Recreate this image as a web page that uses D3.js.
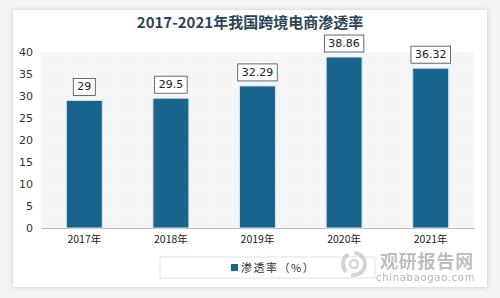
<!DOCTYPE html>
<html><head><meta charset="utf-8">
<script src="https://cdn.jsdelivr.net/npm/d3@7"></script>
<style>body{margin:0;background:#f3f3f3;}svg{display:block;}</style>
</head><body>
<svg id="c" width="500" height="298"></svg>
<script>
const categories = ["2017年","2018年","2019年","2020年","2021年"];
const values = [29, 29.5, 32.29, 38.86, 36.32];
const valueLabels = ["29","29.5","32.29","38.86","36.32"];
const yTicks = [0,5,10,15,20,25,30,35,40];
const title = "2017-2021年我国跨境电商渗透率";
const seriesName = "渗透率（%）";

const svg = d3.select("#c");
const defs = svg.append("defs");
const f = defs.append("filter").attr("id","sh").attr("x","-5%").attr("y","-5%").attr("width","110%").attr("height","110%");
f.append("feDropShadow").attr("dx",0).attr("dy",0).attr("stdDeviation",2.5).attr("flood-color","#000").attr("flood-opacity",0.18);
const pat = defs.append("pattern").attr("id","hatch").attr("width",3).attr("height",3).attr("patternUnits","userSpaceOnUse");
pat.append("rect").attr("width",3).attr("height",3).attr("fill","#f7f7f7");
pat.append("rect").attr("width",1).attr("height",1).attr("fill","#ececec");

svg.append("rect").attr("x",0).attr("y",0).attr("width",500).attr("height",298).attr("fill","#f4f4f4");
svg.append("rect").attr("x",13).attr("y",10).attr("width",474).attr("height",277).attr("fill","#fff").attr("filter","url(#sh)");

const m = {l:41, r:474, t:52, b:228};
const x = d3.scaleBand().domain(categories).range([m.l, m.r]).paddingInner(0.585).paddingOuter(0.2925);
const y = d3.scaleLinear().domain([0,40]).range([m.b, m.t]);

svg.append("rect").attr("x",m.l).attr("y",m.t).attr("width",m.r-m.l).attr("height",m.b-m.t).attr("fill","url(#hatch)");

svg.append("text").attr("x",250).attr("y",28).attr("text-anchor","middle")
  .attr("font-family","'Noto Sans CJK SC'").attr("font-weight","bold").attr("font-size",15)
  .attr("fill","#2b4556").text(title);

const yAxis = svg.append("g").attr("transform",`translate(${m.l},0)`)
  .call(d3.axisLeft(y).tickValues(yTicks).tickSize(0).tickPadding(8));
yAxis.select(".domain").remove();
yAxis.selectAll("text").attr("font-family","'DejaVu Sans'").attr("font-size",11).attr("fill","#333");

const xAxis = svg.append("g").attr("transform",`translate(0,${m.b})`)
  .call(d3.axisBottom(x).tickSize(0).tickPadding(8));
xAxis.select(".domain").attr("stroke","#bbb");
xAxis.selectAll("text").attr("font-family","'Noto Sans CJK SC'").attr("font-size",10.5).attr("fill","#222");

const g = svg.append("g");
g.selectAll("rect.bar").data(values).join("rect").attr("class","bar")
  .attr("x",(d,i)=>x(categories[i])).attr("width",x.bandwidth())
  .attr("y",d=>y(d)).attr("height",d=>y(0)-y(d))
  .attr("fill","#17648d").attr("stroke","#d6e6ef").attr("stroke-width",1);

const lab = svg.append("g");
values.forEach((d,i)=>{
  const cx = x(categories[i]) + x.bandwidth()/2;
  const t = lab.append("text").attr("x",cx).attr("y",y(d)-10).attr("text-anchor","middle")
    .attr("font-family","'DejaVu Sans'").attr("font-size",11).attr("fill","#222").text(valueLabels[i]);
  const w = t.node().getComputedTextLength() + 8;
  lab.insert("rect","text").attr("x",cx-w/2).attr("y",y(d)-22).attr("width",w).attr("height",17)
    .attr("fill","#fff").attr("stroke","#3a4a55").attr("stroke-width",0.8);
});
lab.selectAll("text").raise();

// legend
svg.append("rect").attr("x",160).attr("y",257).attr("width",215).attr("height",21)
  .attr("fill","#fff").attr("stroke","#e2e2e2");
svg.append("rect").attr("x",231).attr("y",264).attr("width",7).attr("height",7).attr("fill","#17648d");
svg.append("text").attr("x",241).attr("y",272).attr("font-family","'Noto Sans CJK SC'").attr("font-size",11)
  .attr("fill","#333").attr("letter-spacing",1.5).text(seriesName);

// watermark
const wm = svg.append("g").attr("opacity",0.75);
wm.append("circle").attr("cx",354).attr("cy",264).attr("r",11).attr("fill","none").attr("stroke","#c8c8c8").attr("stroke-width",4).attr("stroke-dasharray","20 6");
wm.append("circle").attr("cx",354).attr("cy",264).attr("r",4).attr("fill","none").attr("stroke","#c8c8c8").attr("stroke-width",2.5);
wm.append("text").attr("x",380).attr("y",268).attr("font-family","'Noto Sans CJK SC'").attr("font-weight","bold")
  .attr("font-size",18).attr("fill","#a9a9a9").attr("letter-spacing",0.8).text("观研报告网");
wm.append("text").attr("x",376).attr("y",281).attr("font-family","'DejaVu Sans'")
  .attr("font-size",10).attr("fill","#9a9a9a").attr("letter-spacing",0.7).text("chinabaogao.com");
</script>
</body></html>
